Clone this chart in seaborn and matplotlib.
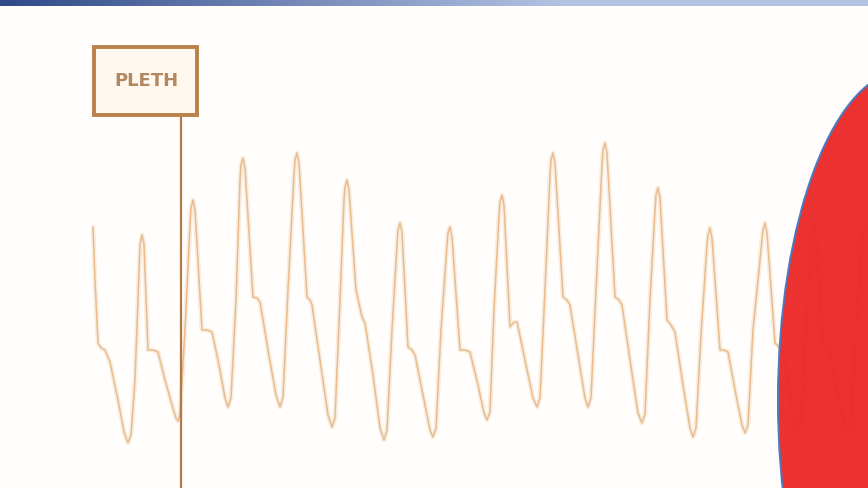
import numpy as np
import pandas as pd
import matplotlib
matplotlib.use("Agg")
import matplotlib.pyplot as plt
from matplotlib.patches import Ellipse, Rectangle
import seaborn as sns

# Plethysmograph trace, one row per beat: time (ms) and amplitude (counts)
time_ms = [
    930, 950, 980, 1010, 1050, 1100, 1180, 1240, 1280, 1310,
    1350, 1390, 1400, 1420, 1440, 1480, 1530, 1580, 1650, 1720, 1760, 1780, 1800,
    1850, 1900, 1910, 1930, 1950, 2020, 2070, 2120, 2190, 2250, 2280, 2310,
    2360, 2400, 2410, 2430, 2450, 2530, 2570, 2600, 2680, 2760, 2800, 2830,
    2880, 2940, 2950, 2970, 2990, 3070, 3100, 3120, 3200, 3280, 3320, 3350,
    3400, 3440, 3450, 3470, 3490, 3560, 3620, 3650, 3730, 3800, 3840, 3870,
    3920, 3970, 3980, 4000, 4020, 4080, 4120, 4150, 4230, 4300, 4330, 4360,
    4410, 4470, 4480, 4500, 4520, 4600, 4650, 4700, 4780, 4840, 4870, 4900,
    4940, 4990, 5000, 5020, 5040, 5100, 5140, 5170, 5250, 5330, 5370, 5400,
    5450, 5500, 5510, 5530, 5550, 5630, 5670, 5700, 5780, 5850, 5880, 5910,
    5960, 6020, 6030, 6050, 6070, 6150, 6190, 6220, 6300, 6380, 6420, 6450,
    6500, 6550, 6560, 6580, 6600, 6670, 6710, 6750, 6830, 6900, 6930, 6960,
    7010, 7070, 7080, 7100, 7120, 7200, 7240, 7280, 7360, 7420, 7450, 7480,
    7530, 7620, 7630, 7650, 7670, 7750, 7790, 7830, 7900, 7950, 7980, 8010,
    8060, 8110, 8120, 8140, 8160, 8230, 8270, 8300, 8380, 8450, 8480, 8510,
    8560, 8620, 8640, 8660, 8680,
]
pleth = [
    261, 208, 145, 140, 138, 126, 88, 56, 45, 53,
    108, 218, 243, 253, 244, 138, 138, 136, 108, 83, 70, 67, 74,
    158, 263, 280, 288, 278, 158, 158, 156, 123, 90, 81, 90,
    188, 308, 323, 330, 320, 191, 190, 186, 138, 93, 81, 91,
    198, 313, 328, 335, 325, 191, 188, 183, 128, 73, 61, 70,
    188, 288, 301, 308, 298, 198, 171, 165, 113, 60, 48, 58,
    158, 243, 258, 265, 256, 141, 138, 133, 93, 58, 51, 60,
    158, 243, 255, 261, 251, 138, 138, 136, 103, 75, 68, 76,
    178, 273, 286, 293, 283, 161, 166, 166, 128, 90, 81, 90,
    198, 313, 328, 335, 325, 191, 188, 183, 133, 90, 81, 90,
    198, 323, 338, 345, 335, 191, 188, 183, 128, 75, 65, 74,
    188, 278, 293, 300, 290, 168, 163, 156, 103, 60, 51, 60,
    153, 243, 253, 260, 250, 138, 138, 136, 93, 63, 55, 63,
    158, 248, 258, 265, 255, 145, 141, 136, 93, 60, 53, 61,
    158, 248, 256, 263, 253, 143, 140, 136, 93, 60, 53, 61,
    158, 248, 258, 263, 256,
]

marker_ms = 1810
panel_label = "PLETH"

df = pd.DataFrame({"time_ms": time_ms, "pleth": pleth})

sns.set_theme(style="white")
fig = plt.figure(figsize=(8.68, 4.88), dpi=100)
fig.patch.set_facecolor("#fffefc")
ax = fig.add_axes([0, 0, 1, 1])
ax.set_facecolor("#fffefc")
ax.set_xlim(0, 8680)
ax.set_ylim(0, 488)
ax.axis("off")

# soft halo under the trace, then the trace itself
sns.lineplot(data=df, x="time_ms", y="pleth", sort=False, ax=ax,
             color="#f7e0c6", linewidth=3.4, alpha=0.55, zorder=2)
sns.lineplot(data=df, x="time_ms", y="pleth", sort=False, ax=ax,
             color="#e8bc92", linewidth=1.1, zorder=3)

# cursor line and label box
ax.plot([marker_ms, marker_ms], [0, 402], color="#b07a45", lw=1.6, zorder=4)
ax.add_patch(Rectangle((940, 373), 1030, 68, facecolor="#fff8ee",
                       edgecolor="#b9824a", lw=2.8, zorder=5))
ax.text(1465, 407, panel_label, ha="center", va="center", fontsize=13,
        fontweight="bold", color="#9e6c3c", alpha=0.8, zorder=6)

# red disc overlay
ax.add_patch(Ellipse((9060, 88), 2560, 660, facecolor="#ec2a2a",
                     edgecolor="#4a78c0", lw=1.5, alpha=0.97, zorder=7))

# title band gradient across the top
band = fig.add_axes([0, 1 - 6 / 488, 1, 6 / 488])
grad = np.linspace(0, 1, 868)
c0 = np.array([0x2f, 0x4a, 0x88]) / 255
c1 = np.array([0xb4, 0xc3, 0xe3]) / 255
w = np.clip(grad / 0.65, 0, 1)[:, None]
rgb = (c0 * (1 - w) + c1 * w)[None, :, :]
band.imshow(rgb, aspect="auto", extent=[0, 1, 0, 1])
band.axis("off")

fig.savefig("out.png", dpi=100, facecolor=fig.get_facecolor())
